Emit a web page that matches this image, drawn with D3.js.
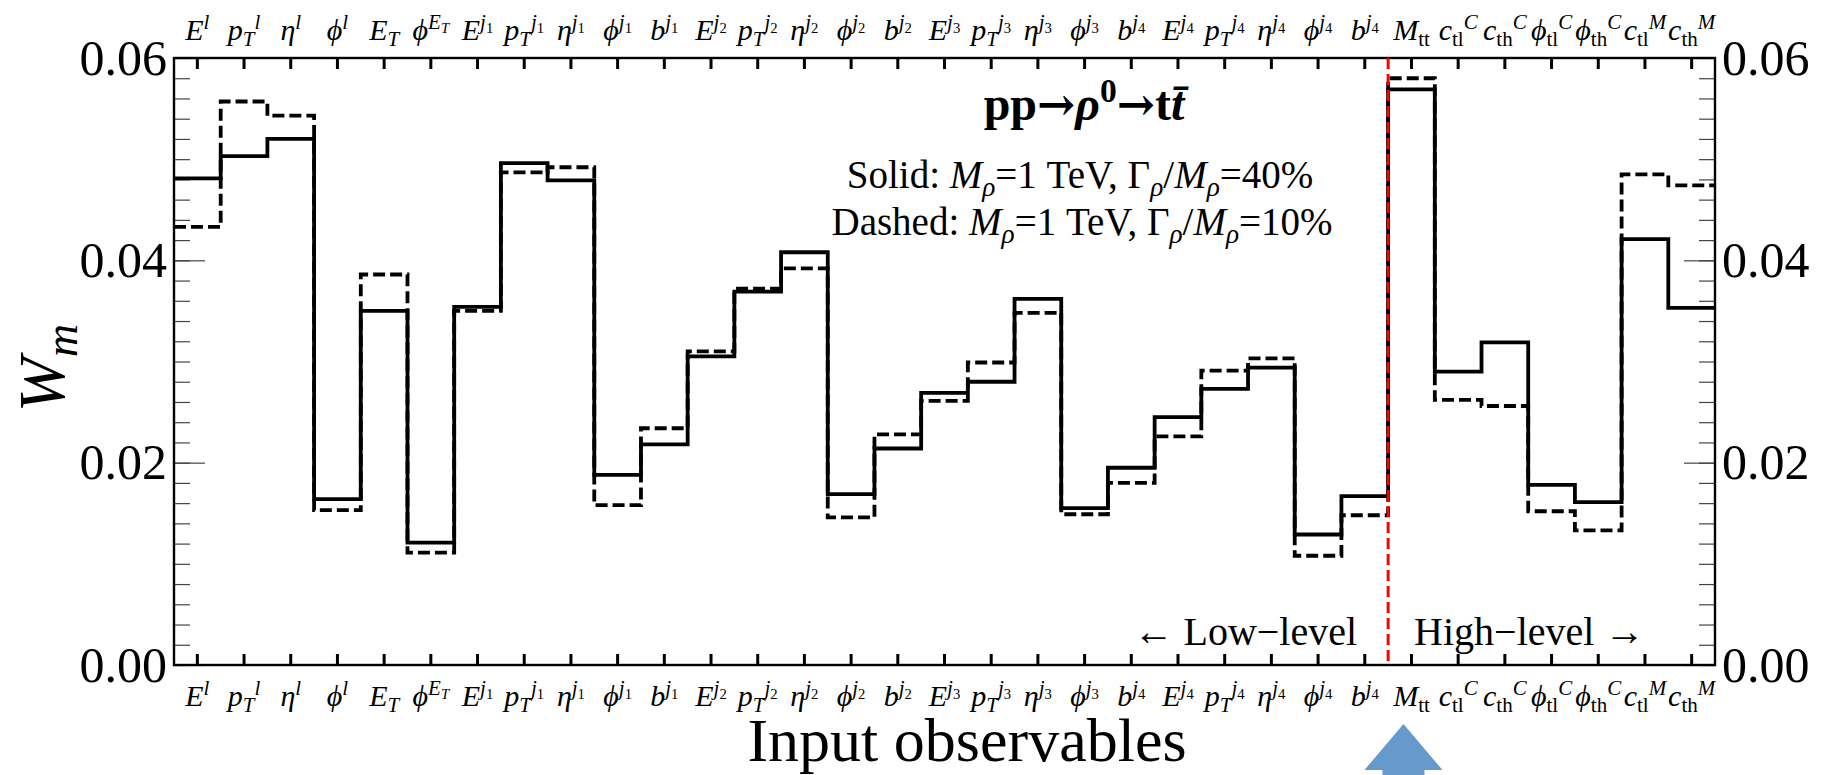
<!DOCTYPE html>
<html><head><meta charset="utf-8">
<script src="https://cdn.jsdelivr.net/npm/d3@7"></script>
<style>
body{margin:0;background:#fff}
svg{display:block}
svg text{font-family:'Liberation Serif','Times New Roman',Times,'DejaVu Serif',serif;fill:#000}
</style>
</head><body>
<svg id="c" width="1822" height="775"></svg>
<script>
// ---------- data ----------
const categories = ["E^l","pT^l","eta^l","phi^l","E_T","phi^ET",
  "E^j1","pT^j1","eta^j1","phi^j1","b^j1",
  "E^j2","pT^j2","eta^j2","phi^j2","b^j2",
  "E^j3","pT^j3","eta^j3","phi^j3","b^j4(a)",
  "E^j4","pT^j4","eta^j4","phi^j4","b^j4",
  "M_tt","c_tl^C","c_th^C","phi_tl^C","phi_th^C","c_tl^M","c_th^M"];
const tickLabels = ["$E^{l}$","${p_{T}}^{l}$","$\\eta^{l}$","$\\phi^{l}$","$E_{T}$","$\\phi^{E_{T}}$",
  "$E^{j_{1}}$","${p_{T}}^{j_{1}}$","$\\eta^{j_{1}}$","$\\phi^{j_{1}}$","$b^{j_{1}}$",
  "$E^{j_{2}}$","${p_{T}}^{j_{2}}$","$\\eta^{j_{2}}$","$\\phi^{j_{2}}$","$b^{j_{2}}$",
  "$E^{j_{3}}$","${p_{T}}^{j_{3}}$","$\\eta^{j_{3}}$","$\\phi^{j_{3}}$","$b^{j_{4}}$",
  "$E^{j_{4}}$","${p_{T}}^{j_{4}}$","$\\eta^{j_{4}}$","$\\phi^{j_{4}}$","$b^{j_{4}}$",
  "$M_{\\mathrm{tt}}$","${c_{\\mathrm{tl}}}^{C}$","${c_{\\mathrm{th}}}^{C}$","${\\phi_{\\mathrm{tl}}}^{C}$","${\\phi_{\\mathrm{th}}}^{C}$","${c_{\\mathrm{tl}}}^{M}$","${c_{\\mathrm{th}}}^{M}$"];
const solidValues = [0.0481,0.0503,0.0520,0.0164,0.0350,0.0121,
  0.0354,0.0496,0.0479,0.0188,0.0218,
  0.0305,0.0369,0.0408,0.0169,0.0214,
  0.0269,0.0280,0.0362,0.0155,0.0195,
  0.0245,0.0273,0.0294,0.0129,0.0167,
  0.0569,0.0290,0.0319,0.0178,0.0161,0.0421,0.0353];
const dashedValues = [0.0433,0.0557,0.0543,0.0153,0.0386,0.0111,
  0.0350,0.0487,0.0492,0.0158,0.0234,
  0.0310,0.0372,0.0392,0.0146,0.0228,
  0.0261,0.0299,0.0348,0.0149,0.0180,
  0.0226,0.0291,0.0303,0.0108,0.0148,
  0.0580,0.0262,0.0256,0.0152,0.0133,0.0485,0.0474];
const yMajorTicks = [0,0.02,0.04,0.06];
const yMinorTicks = d3.range(0,31).map(k=>k*0.002);
const yTickLabels = ["0.00","0.02","0.04","0.06"];
const splitIndex = 26; // first high-level observable
const titleText = "pp\u2192$\\rho^{0}$\u2192t$t\u0304$";
const solidText = "Solid: $M_{\\rho}$=1 TeV, $\\Gamma_{\\rho}/M_{\\rho}$=40%";
const dashedText = "Dashed: $M_{\\rho}$=1 TeV, $\\Gamma_{\\rho}/M_{\\rho}$=10%";
const lowText = "\u2190 Low\u2212level";
const highText = "High\u2212level \u2192";
const xTitle = "Input observables";
const yTitle = "$W_{m}$";

const FONT = "'Liberation Serif','Times New Roman',Times,'DejaVu Serif',serif";
const ARROW_FONT = "'DejaVu Serif','Liberation Serif',serif";

// ---------- mini TeX parser ----------
function parseTex(str){
  const runs=[]; let i=0; let math=false;
  const sym={eta:"\u03b7",phi:"\u03d5",rho:"\u03c1",Gamma:"\u0393"};
  function push(ch,lvl,sc,rm){
    const ital = math && !rm && /[A-Za-z\u03b1-\u03c9\u03d5\u0300-\u036f]/.test(ch);
    const arrow = /[\u2190-\u21ff]/.test(ch);
    const last=runs[runs.length-1];
    if(!arrow && last && !last.arrow && last.lvl===lvl && last.sc===sc && last.ital===ital) last.t+=ch;
    else runs.push({t:ch,lvl,sc,ital,arrow});
  }
  function atom(lvl,sc,rm){
    const c=str[i];
    if(c==='\\'){
      let j=i+1; while(j<str.length && /[A-Za-z]/.test(str[j])) j++;
      const name=str.slice(i+1,j); i=j;
      if(name==='mathrm'){ if(str[i]==='{'){i++; group(lvl,sc,true,true);} return; }
      push(sym[name]||name,lvl,sc,rm); return;
    }
    if(c==='{'){ i++; group(lvl,sc,rm,true); return; }
    push(c,lvl,sc,rm); i++;
  }
  function group(lvl,sc,rm,stop){
    while(i<str.length){
      const c=str[i];
      if(c==='}'){ i++; if(stop) return; continue; }
      if(c==='$'){ math=!math; i++; continue; }
      if((c==='^'||c==='_') && math){
        i++;
        const nl = lvl + (c==='^' ? -0.38 : 0.2)*sc;
        const ns = sc*0.7;
        if(str[i]==='{'){ i++; group(nl,ns,rm,true); } else atom(nl,ns,rm);
        continue;
      }
      atom(lvl,sc,rm);
    }
  }
  group(0,1,false,false);
  return runs;
}
function texText(sel,str,size,bigArrows){
  sel.style("font-family",FONT);
  const runs=parseTex(str); let cur=0;
  runs.forEach(r=>{
    sel.append("tspan")
      .attr("dy",(r.lvl-cur)*size)
      .style("font-family",(r.arrow&&bigArrows)?ARROW_FONT:FONT)
      .style("font-size",(size*r.sc*((r.arrow&&bigArrows)?0.95:1))+"px")
      .style("font-style",r.ital?"italic":"normal")
      .text(r.t);
    cur=r.lvl;
  });
  return sel;
}

// ---------- layout ----------
const svg=d3.select("#c").style("font-family",FONT);
const m={l:174,r:1715,t:58,b:665};
const x=d3.scaleBand().domain(d3.range(categories.length)).range([m.l,m.r]).padding(0);
const y=d3.scaleLinear().domain([0,0.06]).range([m.b,m.t]);

function styleAxis(g,w,col){ g.attr("font-family",null); g.select(".domain").remove(); g.selectAll(".tick line").attr("stroke",col).attr("stroke-width",w); }
svg.append("g").attr("transform",`translate(0,${m.b})`)
  .call(d3.axisBottom(x).tickSize(-11).tickFormat("")).call(g=>styleAxis(g,3,"#000"));
svg.append("g").attr("transform",`translate(0,${m.t})`)
  .call(d3.axisTop(x).tickSize(-11).tickFormat("")).call(g=>styleAxis(g,3,"#000"));
svg.append("g").attr("transform",`translate(${m.l},0)`)
  .call(d3.axisLeft(y).tickValues(yMinorTicks).tickSize(-16).tickFormat("")).call(g=>styleAxis(g,1.2,"#444"));
svg.append("g").attr("transform",`translate(${m.r},0)`)
  .call(d3.axisRight(y).tickValues(yMinorTicks).tickSize(-16).tickFormat("")).call(g=>styleAxis(g,1.2,"#444"));
const fmt=(d)=>yTickLabels[yMajorTicks.indexOf(d)];
const gl=svg.append("g").attr("transform",`translate(${m.l},0)`)
  .call(d3.axisLeft(y).tickValues(yMajorTicks).tickSize(-31).tickPadding(7).tickFormat(fmt)).call(g=>styleAxis(g,1.2,"#444"));
const gr=svg.append("g").attr("transform",`translate(${m.r},0)`)
  .call(d3.axisRight(y).tickValues(yMajorTicks).tickSize(-31).tickPadding(7).tickFormat(fmt)).call(g=>styleAxis(g,1.2,"#444"));
[gl,gr].forEach(g=>g.selectAll("text").style("font-size","50px").style("font-family",FONT).attr("fill","#000"));

// frame
svg.append("rect").attr("x",m.l).attr("y",m.t).attr("width",m.r-m.l).attr("height",m.b-m.t)
  .attr("fill","none").attr("stroke","#000").attr("stroke-width",2.4);

// category labels (top & bottom)
[40,706].forEach(yy=>{
  categories.forEach((c,i)=>{
    const t=svg.append("text").attr("x",x(i)+x.bandwidth()/2).attr("y",yy).attr("text-anchor","middle");
    texText(t,tickLabels[i],30);
  });
});

// histograms
const line=d3.line().x(d=>d[0]).y(d=>d[1]).curve(d3.curveStepAfter);
function pts(vals){
  const p=vals.map((v,i)=>[x(i),y(v)]);
  p.push([x(vals.length-1)+x.bandwidth(),y(vals[vals.length-1])]);
  return p;
}
svg.append("path").attr("d",line(pts(dashedValues))).attr("fill","none").attr("stroke","#000")
  .attr("stroke-width",3.8).attr("stroke-dasharray","12,5");
svg.append("path").attr("d",line(pts(solidValues))).attr("fill","none").attr("stroke","#000")
  .attr("stroke-width",3.8);

// split line
svg.append("line").attr("x1",x(splitIndex)).attr("x2",x(splitIndex)).attr("y1",m.t).attr("y2",m.b)
  .attr("stroke","#ff0000").attr("stroke-width",3).attr("stroke-dasharray","11,5");

// annotations
const tt=svg.append("text").attr("x",1084).attr("y",120).attr("text-anchor","middle").style("font-weight","bold");
texText(tt,titleText,48,true);
tt.selectAll("tspan").style("font-weight","bold");
texText(svg.append("text").attr("x",1080).attr("y",188).attr("text-anchor","middle"),solidText,39);
texText(svg.append("text").attr("x",1082).attr("y",235).attr("text-anchor","middle"),dashedText,39);
svg.append("text").attr("x",x(splitIndex)-31).attr("y",645).attr("text-anchor","end")
  .style("font-size","40px").text(lowText);
svg.append("text").attr("x",x(splitIndex)+26).attr("y",645).attr("text-anchor","start")
  .style("font-size","40px").text(highText);

// axis titles
svg.append("text").attr("x",967).attr("y",761).attr("text-anchor","middle")
  .style("font-size","62px").text(xTitle);
texText(svg.append("text").attr("transform","translate(64,368) rotate(-90)").attr("text-anchor","middle"),yTitle,66);

// blue arrow pointing at the first high-level observable
const cx=x(splitIndex)+x.bandwidth()/2-8;
const ap=d3.path();
ap.moveTo(cx,724); ap.lineTo(cx+39,770); ap.lineTo(cx+21,770); ap.lineTo(cx+21,780);
ap.lineTo(cx-21,780); ap.lineTo(cx-21,770); ap.lineTo(cx-39,770); ap.closePath();
svg.append("path").attr("d",ap.toString()).attr("fill","#6699cc");
</script>
</body></html>
